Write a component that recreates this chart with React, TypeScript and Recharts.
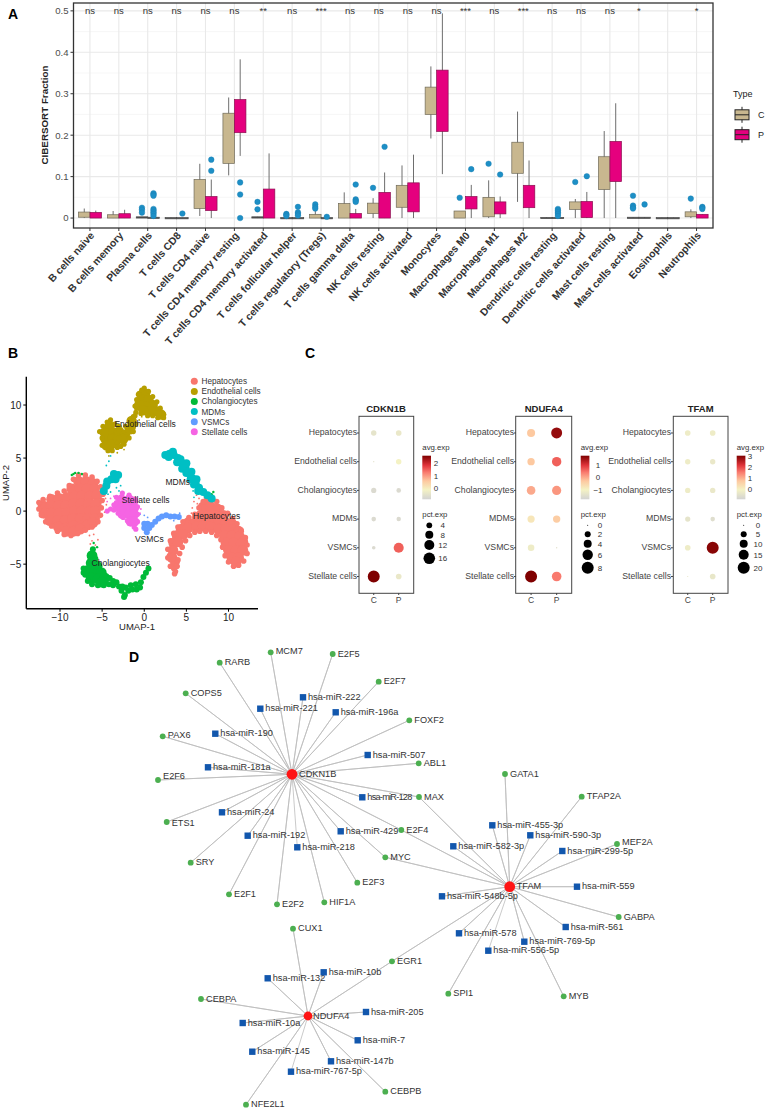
import {
    Bar,
    CartesianGrid,
    Cell,
    ComposedChart,
    Scatter,
    ScatterChart,
    XAxis,
    YAxis,
    ZAxis,
} from "recharts";

// ---- panel A: CIBERSORT fractions
const cellTypes = [
    "B cells naive", "B cells memory", "Plasma cells", "T cells CD8", "T cells CD4 naive",
    "T cells CD4 memory resting", "T cells CD4 memory activated", "T cells follicular helper",
    "T cells regulatory (Tregs)", "T cells gamma delta", "NK cells resting", "NK cells activated",
    "Monocytes", "Macrophages M0", "Macrophages M1", "Macrophages M2", "Dendritic cells resting",
    "Dendritic cells activated", "Mast cells resting", "Mast cells activated", "Eosinophils", "Neutrophils",
];
const significance = ["ns", "ns", "ns", "ns", "ns", "ns", "**", "ns", "***", "ns", "ns", "ns", "ns", "***", "ns", "***", "ns", "ns", "ns", "*", "", "*"];

const cLow = [0, 0, 0, 0, 0.005, 0.103, 0, 0, 0, 0, 0, 0, 0.192, 0, 0, 0.039, 0, 0, 0, 0, 0, 0];
const cQ1 = [0.002, 0, 0, 0, 0.023, 0.132, 0, 0, 0, 0, 0.011, 0.026, 0.25, 0, 0.003, 0.108, 0, 0.021, 0.069, 0, 0, 0.003];
const cQ3 = [0.0145, 0.008, 0.003, 0.001, 0.093, 0.253, 0.003, 0.001, 0.009, 0.035, 0.036, 0.079, 0.316, 0.017, 0.05, 0.183, 0.0015, 0.039, 0.148, 0.002, 0.001, 0.015];
const cHigh = [0.023, 0.017, 0.003, 0.001, 0.131, 0.291, 0.003, 0.001, 0.019, 0.062, 0.048, 0.127, 0.366, 0.017, 0.091, 0.257, 0.0015, 0.046, 0.21, 0.002, 0.001, 0.021];

const pLow = [0, 0, 0, 0, 0, 0.15, 0, 0, 0, 0, 0, 0, 0.106, 0, 0, 0, 0, 0, 0, 0, 0, 0];
const pQ1 = [0, 0, 0, 0, 0.018, 0.206, 0, 0, 0, 0, 0, 0.015, 0.209, 0.022, 0.01, 0.025, 0, 0.001, 0.088, 0, 0, 0];
const pQ3 = [0.0137, 0.0105, 0.002, 0.001, 0.052, 0.286, 0.07, 0.001, 0.001, 0.011, 0.062, 0.085, 0.357, 0.052, 0.039, 0.079, 0.0015, 0.04, 0.185, 0.002, 0.001, 0.009];
const pHigh = [0.018, 0.02, 0.002, 0.001, 0.093, 0.383, 0.156, 0.001, 0.001, 0.022, 0.11, 0.153, 0.494, 0.08, 0.052, 0.139, 0.0015, 0.063, 0.277, 0.002, 0.001, 0.009];

const cOutliers = [
    [], [], [0.025, 0.02, 0.013], [], [], [], [0.039, 0.021], [0.01, 0.008, 0.005], [0.033, 0.027, 0.023], [],
    [0.073], [], [], [0.049], [0.131], [], [], [0.087], [], [0.054, 0.03, 0.026, 0.023], [], [0.047],
];
const pOutliers = [
    [], [], [0.06, 0.057, 0.054, 0.022, 0.018, 0.014, 0.01, 0.005], [0.011], [0.141, 0.114], [0.086, 0.057, 0],
    [], [0.027, 0.014, 0.01, 0.006], [0.003], [0.081, 0.045, 0.042, 0.039], [0.172], [], [], [0.118], [0.105], [],
    [0.022, 0.018, 0.014, 0.01, 0.005], [0.101], [], [0.033], [], [0.027, 0.025, 0.022],
];

const yTicksA = [0, 0.1, 0.2, 0.3, 0.4, 0.5];
const yMinorA = [0.05, 0.15, 0.25, 0.35, 0.45];

const boxRows = cellTypes.map((name, i) => ({
    name,
    c: [cLow[i], cHigh[i]],
    p: [pLow[i], pHigh[i]],
    cBox: [cQ1[i], cQ3[i]],
    pBox: [pQ1[i], pQ3[i]],
}));
const outlierRows = [
    ...cOutliers.flatMap((vals, i) => vals.map((y) => ({ x: i + 1 - 0.2, y }))),
    ...pOutliers.flatMap((vals, i) => vals.map((y) => ({ x: i + 1 + 0.2, y }))),
];
const sigRows = significance.map((label, i) => ({ x: i + 1, y: 0.5, label }));

const hepCore = [
    [-7.8, 2.8], [-6.9, 2.8], [-6.1, 2.6],
    [-8.6, 2.1], [-7.7, 2.1], [-6.8, 2.1], [-5.9, 2.1],
    [-11.0, 1.1], [-10.1, 1.2], [-9.2, 1.3], [-8.3, 1.4], [-7.4, 1.4], [-6.5, 1.4], [-5.6, 1.5],
    [-12.0, 0.5], [-11.1, 0.5], [-10.2, 0.5], [-9.3, 0.5], [-8.4, 0.7], [-7.5, 0.7], [-6.6, 0.7], [-5.7, 0.7],
    [-11.9, -0.2], [-11.0, -0.2], [-10.1, -0.2], [-9.2, -0.2], [-8.3, 0], [-7.4, 0], [-6.5, 0], [-5.8, 0],
    [-11.2, -0.9], [-10.3, -0.9], [-9.4, -0.9], [-8.5, -0.7], [-7.6, -0.7], [-6.7, -0.7], [-5.9, -0.7],
    [-10.2, -1.5], [-9.3, -1.6], [-8.4, -1.4], [-7.5, -1.4], [-6.7, -1.3], [-6.1, -1.1],
    [-9.2, -1.9], [-8.4, -1.9], [-7.6, -1.7],
    [7.6, 0.9], [7.0, 0.4], [7.9, 0.4], [8.7, 0.2],
    [6.7, -0.4], [7.6, -0.4], [8.5, -0.4], [9.4, -0.4],
    [5.2, -1.1], [6.1, -1.1], [7.0, -1.1], [7.9, -1.1], [8.8, -1.1], [9.7, -1.1], [10.4, -1.2],
    [4.4, -1.7], [5.2, -1.6], [6.2, -1.5], [7.0, -1.4], [7.9, -1.5], [8.8, -1.7], [9.7, -1.7], [10.6, -1.7], [11.2, -1.9],
    [3.9, -2.3], [4.6, -2.2], [9.5, -2.3], [10.4, -2.3], [11.3, -2.4], [11.7, -2.9],
    [3.5, -3.0], [4.0, -2.9], [9.7, -3.0], [10.6, -3.0], [11.5, -3.1],
    [3.4, -3.7], [10.0, -3.7], [10.9, -3.7], [11.7, -3.7],
    [3.3, -4.4], [10.4, -4.4], [11.2, -4.4], [10.9, -4.8],
];
const hepThin = [
    [3.4, -5.0], [3.5, -5.4], [3.7, -5.7], [3.6, -5.9], [3.9, -4.8], [6.0, -0.6], [3.0, -4.2],
    // left blob edge
    [-12.5, 0.8], [-12.5, 0.2], [-12.2, -0.4], [-11.7, -1], [-11, -1.4], [-10.3, -1.9], [-9.5, -2.2], [-8.7, -2.3], [-7.9, -2.1],
    [-7, -1.8], [-6.2, -1.5], [-5.5, -1], [-5.2, -0.4], [-5.1, 0.3], [-5, 1], [-4.9, 1.6], [-5.2, 2.3], [-5.6, 2.8], [-6.2, 3.2],
    [-7, 3.4], [-7.8, 3.4], [-8.4, 3.0], [-8.9, 2.4], [-9.5, 1.9], [-10.3, 1.7], [-11.2, 1.4], [-12, 1.1],
    // crescent edge
    [3.1, -5.2], [2.8, -4.4], [2.8, -3.6], [3.1, -2.8], [3.5, -2.1], [4, -1.5], [4.6, -1], [5.3, -0.6], [6, -0.3], [6.5, 0.3],
    [7, 0.9], [7.4, 1.3], [8, 1.3], [8.6, 0.9], [9.2, 0.3], [9.9, -0.2], [10.5, -0.7], [11, -1.2], [11.5, -1.8], [12, -2.5],
    [12.2, -3.2], [12.2, -4], [11.8, -4.7], [11.2, -5.1], [10.6, -5.2], [10, -4.8], [9.6, -4.2], [9.3, -3.4], [9.1, -2.7], [8.6, -2.3],
    [8, -2], [7.3, -1.9], [6.6, -1.9], [6, -2], [5.4, -2.3], [4.9, -2.8], [4.5, -3.4], [4.2, -4], [4, -4.6], [3.9, -5.2],
];
const hepSpecks = [
    [-6.5, -2.3], [-6.2, -2.8], [-5.8, -3.2], [-5.5, -2.7], [-6, -2.2], [-6.4, -3.1], [6.2, 1.5], [6.5, 1.2], [5.7, 0.3],
    [5.6, -0.2], [5.2, -0.7], [4.7, -0.9], [5.9, 0.9], [6.3, 0.7], [-4.6, 1.2], [-4.5, 0.6], [-4.7, -0.1],
];
const endoCore = [
    [0.1, 11.1], [-0.3, 10.5], [0.5, 10.5], [1.0, 10.0], [0.1, 9.9], [-0.6, 10.0], [1.5, 9.4], [2.0, 9.1], [0.8, 9.4], [-0.1, 9.5],
    [-4.1, 8.0], [-4.7, 7.4], [-3.7, 7.4], [-4.6, 6.8], [-3.8, 6.8], [-4.5, 6.2], [-3.9, 6.3], [-3, 7.5], [-3.1, 6.8],
    [-2.3, 7.2], [-1.7, 7.7], [-1.5, 8.5], [-2.5, 6.8],
];
const endoThin = [
    [-0.7, 11.0], [-0.9, 9.7], [-1.1, 9.0], [-3.0, 7.6], [-3.2, 6.4], [-3.0, 6.9], [-4.3, 5.7], [-2.8, 6.1], [-1.3, 7.9], [-2.2, 8.0],
    [0, 11.6], [0.5, 11.3], [1, 10.8], [1.5, 10.3], [1.9, 9.7], [2.3, 9.1], [2.3, 8.8], [1.6, 8.8], [1, 9], [0.4, 9], [-0.4, 9.2], [-1, 9.3],
    [-1.1, 9.9], [-0.9, 10.5], [-0.6, 11.1], [-0.3, 11.4],
    [-4, 8.6], [-3.5, 8.2], [-3, 8], [-1.3, 8.9], [-1, 8.2], [-1.3, 7.5], [-1.8, 6.9], [-2.4, 6.3], [-3.2, 6], [-3.8, 5.7], [-5, 6.2],
    [-5, 6.9], [-5.3, 7.5], [-4.9, 8], [-4.4, 8.4],
];
const endoSpecks = [[-3.2, 5.5], [-4.2, 5.2], [-2.4, 5.8], [-0.6, 8.6], [-0.3, 8.9]];
const cholCore = [
    [-6.2, -4.2], [-6.3, -4.9], [-5.6, -5.2], [-6.7, -5.6], [-5.9, -5.7], [-5.1, -5.8],
    [-6.3, -6.3], [-5.5, -6.4], [-4.7, -6.3], [-5.0, -6.7],
];
const cholThin = [
    [-6.1, -3.6], [-4.1, -6.3], [-3.7, -6.6], [-4.2, -6.9], [-3.3, -6.7], [-3.0, -7.1], [-2.7, -7.5], [-2.3, -7.9], [-2.4, -8.1],
    [-1.9, -7.5], [-1.4, -7.4], [-0.9, -7.4], [-0.5, -7.2], [-0.4, -6.7], [-0.1, -6.2], [0.2, -5.8], [0.5, -5.4],
    [-1.0, -6.9], [-2.2, -7.2], [-7.2, -5.8], [-5.8, -4.5], [-7.2, -5.4], [-7, -6], [-6.7, -6.6], [-6.2, -6.9], [-5.5, -7], [-4.8, -7],
    [-1.6, -7], [-3.7, -7], [-2.6, -7.1],
];
const cholSpecks = [[-6, -3], [-5.6, -3.4], [-8.6, 3.4], [-8.4, 3.5], [-8.2, 3.6], [-7.8, 3.6], [-7.4, 3.5], [8, 1.6], [8.2, 1.8], [8.1, 1.3]];
const mdmThin = [
    [2.5, 5.3], [3.0, 5.4], [3.5, 5.3], [4.0, 5.0], [4.5, 4.5], [4.9, 4.1], [5.3, 3.6], [5.7, 3.1], [6.1, 2.6], [6.5, 2.2],
    [7.0, 1.8], [7.5, 1.5], [8.0, 1.2], [-3.6, 3.5], [-3.1, 3.4], [-3.9, 3.0], [-3.4, 3.0], [-4.4, 2.8], [-4.5, 2.4], [-4.8, 1.9],
    [2.9, 5.1], [3.9, 4.6], [4.5, 4.0], [5, 3.6], [5.5, 3.0], [5.9, 2.5], [6.4, 1.9], [3.4, 5.6], [4.3, 4.9], [5.0, 4.5], [5.6, 3.7], [6.2, 3.0],
];
const mdmSpecks = [[-4.3, 1.6], [-4, 1.8], [-3.3, 2.2], [-3, 1.9], [-2.8, 2.4], [-4.5, 4.3], [-4.2, 4.7], [-4, 5.2], [5.8, 1.9], [5.9, 1.3]];
const vsmcThin = [[0, -1.6], [0.3, -2], [0.6, -1.6], [0.4, -1.2], [0.9, -1.3], [1.3, -1], [1.7, -0.7], [2.1, -0.5], [2.6, -0.4], [3.1, -0.5], [3.6, -0.5], [4.1, -0.55], [0, -1.2]];
const vsmcSpecks = [[-0.5, -0.3], [0, -0.4], [0.4, -0.6], [3.5, -0.9], [4.2, -0.2]];
const stelCore = [[-2.7, 1.1], [-1.8, 1.1], [-1.3, 0.9], [-3.2, 0.4], [-2.4, 0.4], [-1.6, 0.4], [-1.2, 0.3], [-2.6, -0.3], [-1.8, -0.3], [-1.2, -0.3], [-1.6, -1], [-1.2, -1]];
const stelThin = [
    [-1.2, -1.5], [-4.4, 0], [-4, 0.2], [-3.6, 0.1], [-3.3, 0.8], [-3.3, 1.3], [-2.6, 1.7], [-1.8, 1.5], [-1.1, 1.1], [-0.8, 0.4],
    [-0.8, -0.3], [-0.8, -1], [-1, -1.7], [-2, -0.9], [-2.5, -0.6], [-3.1, -0.2], [-3.6, 0.6],
];
const stelSpecks = [[-4.4, 0.9], [-4, 1.2], [-3.6, 1.4], [-0.5, -0.2], [-0.4, 0.2]];

const clusterNames = ["Hepatocytes", "Endothelial cells", "Cholangiocytes", "MDMs", "VSMCs", "Stellate cells"];
const clusterColors = ["#f8766d", "#b79f00", "#00ba38", "#00bfc4", "#619cff", "#f564e3"];
const clusterLabels = [
    { x: 8.6, y: -0.45, label: "Hepatocytes" },
    { x: 0.1, y: 8.2, label: "Endothelial cells" },
    { x: -2.8, y: -4.85, label: "Cholangiocytes" },
    { x: 3.97, y: 2.76, label: "MDMs" },
    { x: 0.6, y: -2.6, label: "VSMCs" },
    { x: 0.17, y: 1.07, label: "Stellate cells" },
];

// ---- panel C: dot plots
const dotRowNames = ["Hepatocytes", "Endothelial cells", "Cholangiocytes", "MDMs", "VSMCs", "Stellate cells"];
const cdkn1bPct = [3.6, 3.9, 0.2, 3.6, 3.3, 2.6, 2.6, 2.4, 1.6, 12.3, 17.5, 3.9];
const cdkn1bAvg = [0.12, 0.15, 0.1, 0.22, 0.05, 0.05, 0.05, 0.05, 0.05, 0.68, 1, 0.15];
const ndufa4Pct = [3.6, 6.7, 3, 4.9, 4.1, 4.7, 2.9, 3, 2.4, 0.1, 8, 5.1];
const ndufa4Avg = [0.42, 0.95, 0.42, 0.68, 0.5, 0.55, 0.28, 0.4, 0.18, 0.1, 1, 0.62];
const tfamPct = [4.4, 4.4, 4, 4, 4, 4, 3.8, 2.9, 4.4, 20, 0.2, 4.4];
const tfamAvg = [0.18, 0.18, 0.18, 0.15, 0.18, 0.15, 0.12, 0.08, 0.18, 0.98, 0.14, 0.14];

const rampStops: [number, string][] = [
    [0, "#d3d3d3"], [0.22, "#f4f2c4"], [0.42, "#fdc9a0"], [0.62, "#f97a6e"], [0.78, "#e0343a"], [1, "#7f0000"],
];

const rampColor = (t: number) => {
    const hex = (c: string) => [1, 3, 5].map((i) => parseInt(c.slice(i, i + 2), 16));
    for (let i = 1; i < rampStops.length; i++) {
        if (t <= rampStops[i][0]) {
            const [t0, c0] = rampStops[i - 1];
            const [t1, c1] = rampStops[i];
            const k = (t - t0) / (t1 - t0);
            const a = hex(c0);
            const b = hex(c1);
            return `rgb(${a.map((v, j) => Math.round(v + (b[j] - v) * k)).join(",")})`;
        }
    }
    return rampStops[rampStops.length - 1][1];
};

const dotRows = (pct: number[], avg: number[]) =>
    pct.map((p, i) => ({ x: (i % 2) + 1, y: Math.floor(i / 2) + 1, pct: p, avg: avg[i] }));

// ---- panel D: regulatory network
const hubs = [
    { name: "CDKN1B", x: 292, y: 774.3 },
    { name: "TFAM", x: 509.7, y: 886.7 },
    { name: "NDUFA4", x: 308, y: 1016 },
];
const factors = [
    { name: "MCM7", x: 270.7, y: 652.3 }, { name: "E2F5", x: 332.7, y: 654 }, { name: "RARB", x: 219.7, y: 662.7 },
    { name: "E2F7", x: 378.7, y: 681.7 }, { name: "COPS5", x: 185.7, y: 693.3 }, { name: "FOXF2", x: 409.3, y: 720.3 },
    { name: "PAX6", x: 162.7, y: 736.3 }, { name: "ABL1", x: 418.7, y: 763.3 }, { name: "E2F6", x: 158, y: 780 },
    { name: "MAX", x: 419, y: 797 }, { name: "ETS1", x: 166.7, y: 822 }, { name: "E2F4", x: 401.3, y: 830 },
    { name: "MYC", x: 385.3, y: 857.3 }, { name: "SRY", x: 190.7, y: 862.7 }, { name: "E2F3", x: 357.3, y: 882.7 },
    { name: "E2F1", x: 229, y: 894.3 }, { name: "E2F2", x: 277, y: 904.3 }, { name: "HIF1A", x: 324.3, y: 902.3 },
    { name: "GATA1", x: 505, y: 774 }, { name: "TFAP2A", x: 581.7, y: 796.7 }, { name: "MEF2A", x: 617, y: 844 },
    { name: "GABPA", x: 618.7, y: 917 }, { name: "MYB", x: 563.7, y: 996.3 }, { name: "SPI1", x: 448.3, y: 993.7 },
    { name: "EGR1", x: 392, y: 961.3 }, { name: "CUX1", x: 293, y: 928.7 }, { name: "CEBPA", x: 201, y: 999 },
    { name: "CEBPB", x: 385.3, y: 1091.7 }, { name: "NFE2L1", x: 246, y: 1104.7 },
];
const mirnas = [
    { name: "hsa-miR-222", x: 303, y: 697.3 }, { name: "hsa-miR-221", x: 260.3, y: 708.7 }, { name: "hsa-miR-196a", x: 335.7, y: 712.3 },
    { name: "hsa-miR-190", x: 215.3, y: 733.7 }, { name: "hsa-miR-507", x: 367.7, y: 755 }, { name: "hsa-miR-181a", x: 208, y: 767.3 },
    { name: "hsa-miR-128", x: 362.3, y: 797.3 }, { name: "hsa-miR-24", x: 222, y: 812.3 }, { name: "hsa-miR-192", x: 247.7, y: 835.7 },
    { name: "hsa-miR-429", x: 340.7, y: 831.3 }, { name: "hsa-miR-218", x: 297.3, y: 847.3 },
    { name: "hsa-miR-455-3p", x: 492.3, y: 825.3 }, { name: "hsa-miR-590-3p", x: 530.3, y: 835.3 }, { name: "hsa-miR-582-3p", x: 453.3, y: 846.3 },
    { name: "hsa-miR-299-5p", x: 562.3, y: 851 }, { name: "hsa-miR-559", x: 577, y: 886.7 }, { name: "hsa-miR-548b-5p", x: 442, y: 896.3 },
    { name: "hsa-miR-561", x: 565.7, y: 927 }, { name: "hsa-miR-578", x: 459, y: 933.3 }, { name: "hsa-miR-769-5p", x: 524.3, y: 941.7 },
    { name: "hsa-miR-556-5p", x: 488.3, y: 950.7 },
    { name: "hsa-miR-132", x: 267.7, y: 978.3 }, { name: "hsa-miR-10b", x: 323.7, y: 972.3 }, { name: "hsa-miR-205", x: 366, y: 1012 },
    { name: "hsa-miR-10a", x: 242.7, y: 1023 }, { name: "hsa-miR-7", x: 357.7, y: 1040.3 }, { name: "hsa-miR-145", x: 252.3, y: 1051.7 },
    { name: "hsa-miR-147b", x: 331, y: 1061.3 }, { name: "hsa-miR-767-5p", x: 291, y: 1071.7 },
];
const cdkn1bLinks = [
    "MCM7", "E2F5", "RARB", "E2F7", "COPS5", "FOXF2", "PAX6", "ABL1", "E2F6", "MAX", "ETS1", "E2F4", "MYC", "SRY", "E2F3", "E2F1", "E2F2", "HIF1A",
    "hsa-miR-222", "hsa-miR-221", "hsa-miR-196a", "hsa-miR-190", "hsa-miR-507", "hsa-miR-181a", "hsa-miR-128", "hsa-miR-24", "hsa-miR-192", "hsa-miR-429", "hsa-miR-218",
];
const tfamLinks = [
    "GATA1", "TFAP2A", "MEF2A", "GABPA", "MYB", "SPI1", "EGR1", "MAX", "E2F4", "MYC",
    "hsa-miR-455-3p", "hsa-miR-590-3p", "hsa-miR-582-3p", "hsa-miR-299-5p", "hsa-miR-559", "hsa-miR-548b-5p", "hsa-miR-561", "hsa-miR-578", "hsa-miR-769-5p", "hsa-miR-556-5p",
];
const ndufa4Links = [
    "CUX1", "CEBPA", "CEBPB", "NFE2L1", "EGR1",
    "hsa-miR-132", "hsa-miR-10b", "hsa-miR-205", "hsa-miR-10a", "hsa-miR-7", "hsa-miR-145", "hsa-miR-147b", "hsa-miR-767-5p",
];
// labels that sit off the usual spot in the picture
const labelShiftY: Record<string, number> = { MEF2A: -2, E2F6: -4, ETS1: 1.5, PAX6: -1, MCM7: -1 };

const FONT = "'Liberation Sans', Arial, sans-serif";
const CONTROL = "#c8b78f";
const PATIENT = "#e5007e";

const pts = (pairs: number[][]) => pairs.map(([x, y]) => ({ x, y }));

const dot = (r: number, fill: string) => (p: any) => <circle cx={p.cx} cy={p.cy} r={r} fill={fill} />;

// whisker range comes in as the bar, the box is placed inside it with the same scale
const boxShape = (boxKey: "cBox" | "pBox", rangeKey: "c" | "p", fill: string, stroke: string) => (p: any) => {
    const [lo, hi] = p.payload[rangeKey];
    const [q1, q3] = p.payload[boxKey];
    const perUnit = p.height / (hi - lo);
    const top = p.y + (hi - q3) * perUnit;
    const h = Math.max((q3 - q1) * perUnit, 1.2);
    const mid = p.x + p.width / 2;
    return (
        <g>
            <line x1={mid} x2={mid} y1={p.y} y2={p.y + p.height} stroke="#6e6e6e" strokeWidth={1} />
            <rect x={p.x} y={top} width={p.width} height={h} fill={h < 2 ? "#4a4a4a" : fill} stroke={h < 2 ? "#4a4a4a" : stroke} strokeWidth={0.7} />
        </g>
    );
};

const CellTick = (p: any) => (
    <text
        transform={`translate(${p.x + 5},${p.y + 3}) rotate(-48)`}
        textAnchor="end"
        fontSize={10.4}
        fontWeight="bold"
        fill="#333"
        fontFamily={FONT}
    >
        {p.payload.value}
    </text>
);

const BoxPanel = () => (
    <div style={{ position: "absolute", left: 0, top: 0 }}>
        <ComposedChart
            width={767}
            height={356}
            data={boxRows}
            barGap={0}
            margin={{ top: 3, right: 54, bottom: 0, left: 0 }}
        >
            <CartesianGrid xAxisId="num" horizontalValues={yMinorA} vertical={false} stroke="#f2f2f2" strokeWidth={0.6} />
            <CartesianGrid
                xAxisId="num"
                horizontalValues={yTicksA}
                verticalValues={cellTypes.map((_, i) => i + 1)}
                stroke="#e9e9e9"
                strokeWidth={1.1}
            />
            <XAxis
                xAxisId="cat"
                dataKey="name"
                interval={0}
                height={128}
                padding={{ left: 2, right: 2 }}
                tick={CellTick}
                tickSize={3}
                axisLine={false}
                tickLine={{ stroke: "#333" }}
            />
            <XAxis xAxisId="num" type="number" dataKey="x" domain={[0.5, 22.5]} padding={{ left: 2, right: 2 }} hide />
            <YAxis
                width={73.5}
                type="number"
                domain={[-0.024, 0.519]}
                ticks={yTicksA}
                allowDataOverflow
                tickSize={3}
                axisLine={false}
                tickLine={{ stroke: "#333" }}
                tick={{ fontSize: 9.6, fill: "#4d4d4d", fontFamily: FONT }}
            />
            <Bar
                xAxisId="cat"
                dataKey="c"
                barSize={11.5}
                isAnimationActive={false}
                shape={boxShape("cBox", "c", CONTROL, "#6f6a58")}
            />
            <Bar
                xAxisId="cat"
                dataKey="p"
                barSize={11.5}
                isAnimationActive={false}
                shape={boxShape("pBox", "p", PATIENT, "#8a1050")}
            />
            <Scatter
                xAxisId="num"
                dataKey="y"
                data={outlierRows}
                isAnimationActive={false}
                shape={(p: any) => <circle cx={p.cx} cy={p.cy} r={2.8} fill="#1d8fc6" stroke="#1a7fb0" strokeWidth={0.4} />}
            />
            <Scatter
                xAxisId="num"
                dataKey="y"
                data={sigRows}
                isAnimationActive={false}
                shape={(p: any) => (
                    <text x={p.cx} y={p.cy + 3} textAnchor="middle" fontSize={9.5} fill="#333" fontFamily={FONT}>
                        {p.payload.label}
                    </text>
                )}
            />
        </ComposedChart>
    </div>
);

const umapSeries: [number[][], number, string][] = [
    [hepSpecks, 0.9, clusterColors[0]],
    [hepCore, 5.4, clusterColors[0]],
    [hepThin, 2.8, clusterColors[0]],
    [endoSpecks, 0.9, clusterColors[1]],
    [endoCore, 5.2, clusterColors[1]],
    [endoThin, 2.6, clusterColors[1]],
    [cholSpecks, 1.2, clusterColors[2]],
    [cholCore, 5.4, clusterColors[2]],
    [cholThin, 3, clusterColors[2]],
    [mdmSpecks, 0.9, clusterColors[3]],
    [mdmThin, 4, clusterColors[3]],
    [vsmcSpecks, 0.9, clusterColors[4]],
    [vsmcThin, 3, clusterColors[4]],
    [stelSpecks, 0.9, clusterColors[5]],
    [stelCore, 5, clusterColors[5]],
    [stelThin, 2.6, clusterColors[5]],
];

const minusTick = (v: number) => String(v).replace("-", "\u2212");

const UmapPanel = () => (
    <div style={{ position: "absolute", left: 0, top: 370 }}>
        <ScatterChart width={265} height={262} margin={{ top: 6.7, right: 7, bottom: 0, left: 0 }}>
            <XAxis
                type="number"
                dataKey="x"
                domain={[-14, 13.5]}
                ticks={[-10, -5, 0, 5, 10]}
                tickFormatter={minusTick}
                height={23.3}
                tickSize={3}
                axisLine={{ stroke: "#000", strokeWidth: 1.4 }}
                tickLine={{ stroke: "#000" }}
                tick={{ fontSize: 10, fill: "#222", fontFamily: FONT }}
            />
            <YAxis
                type="number"
                dataKey="y"
                domain={[-9.2, 12.67]}
                ticks={[-5, 0, 5, 10]}
                tickFormatter={minusTick}
                width={26.3}
                tickSize={3}
                axisLine={{ stroke: "#000", strokeWidth: 1.4 }}
                tickLine={{ stroke: "#000" }}
                tick={{ fontSize: 10, fill: "#222", fontFamily: FONT }}
            />
            {umapSeries.map(([cells, r, color], i) => (
                <Scatter key={i} data={pts(cells)} isAnimationActive={false} shape={dot(r, color)} />
            ))}
            <Scatter
                data={clusterLabels}
                isAnimationActive={false}
                shape={(p: any) => (
                    <text x={p.cx} y={p.cy + 3} textAnchor="middle" fontSize={8.5} fill="#222" fontFamily={FONT}>
                        {p.payload.label}
                    </text>
                )}
            />
        </ScatterChart>
    </div>
);

const RowTick = (p: any) => (
    <text x={p.x} y={p.y + 2.4} textAnchor="end" fontSize={8.7} fill="#444" fontFamily={FONT}>
        {dotRowNames[p.payload.value - 1]}
    </text>
);

const DotPanel = ({ left, plotWidth, maxPct, rows }: { left: number; plotWidth: number; maxPct: number; rows: any[] }) => (
    <div style={{ position: "absolute", left: left - 70, top: 416.3 }}>
        <ScatterChart width={70 + plotWidth} height={195} margin={{ top: 0, right: 0, bottom: 0, left: 0 }}>
            <XAxis
                type="number"
                dataKey="x"
                domain={[0.41, 2.6]}
                ticks={[1, 2]}
                tickFormatter={(v: number) => (v === 1 ? "C" : "P")}
                height={18}
                tickSize={2}
                axisLine={false}
                tickLine={{ stroke: "#444" }}
                tick={{ fontSize: 8.5, fill: "#444", fontFamily: FONT }}
            />
            <YAxis
                type="number"
                dataKey="y"
                reversed
                domain={[0.408, 6.575]}
                ticks={[1, 2, 3, 4, 5, 6]}
                width={70}
                tickSize={2}
                tickMargin={0}
                axisLine={false}
                tickLine={{ stroke: "#444" }}
                tick={RowTick}
            />
            <ZAxis type="number" dataKey="pct" domain={[0, maxPct]} range={[0, 113]} />
            <Scatter data={rows} isAnimationActive={false}>
                {rows.map((r, i) => (
                    <Cell key={i} fill={rampColor(r.avg)} />
                ))}
            </Scatter>
        </ScatterChart>
    </div>
);

const nodeByName = Object.fromEntries([...factors, ...mirnas].map((n) => [n.name, n]));
const starPath = (hub: { x: number; y: number }, links: string[]) =>
    links.flatMap((name) => [hub, nodeByName[name]]);

const nodeLabel = (p: any, dx: number) => (
    <text
        x={p.cx + dx}
        y={p.cy + 2.5 + (labelShiftY[p.payload.name] ?? 0)}
        fontSize={9.2}
        fill="#333"
        fontFamily={FONT}
        textLength={p.payload.name === "hsa-miR-128" ? 45 : undefined}
        lengthAdjust="spacing"
    >
        {p.payload.name}
    </text>
);

const NetworkPanel = () => (
    <div style={{ position: "absolute", left: 0, top: 640 }}>
        <ScatterChart width={767} height={470} margin={{ top: 0, right: 0, bottom: 0, left: 0 }}>
            <XAxis type="number" dataKey="x" domain={[0, 767]} hide />
            <YAxis type="number" dataKey="y" domain={[640, 1110]} reversed hide />
            {[cdkn1bLinks, tfamLinks, ndufa4Links].map((links, i) => (
                <Scatter
                    key={i}
                    data={starPath(hubs[i], links)}
                    line={{ stroke: "#bdbdbd", strokeWidth: 0.8 }}
                    isAnimationActive={false}
                    shape={() => <g />}
                />
            ))}
            <Scatter
                data={factors}
                isAnimationActive={false}
                shape={(p: any) => (
                    <g>
                        <circle cx={p.cx} cy={p.cy} r={2.9} fill="#4caf50" />
                        {nodeLabel(p, 5)}
                    </g>
                )}
            />
            <Scatter
                data={mirnas}
                isAnimationActive={false}
                shape={(p: any) => (
                    <g>
                        <rect x={p.cx - 3.2} y={p.cy - 3.2} width={6.4} height={6.4} fill="#1257ad" />
                        {nodeLabel(p, 5)}
                    </g>
                )}
            />
            <Scatter
                data={hubs}
                isAnimationActive={false}
                shape={(p: any) => (
                    <g>
                        <circle cx={p.cx} cy={p.cy} r={p.payload.name === "NDUFA4" ? 4.4 : 5.4} fill="#ff1414" />
                        {nodeLabel(p, p.payload.name === "NDUFA4" ? 5 : 7)}
                    </g>
                )}
            />
        </ScatterChart>
    </div>
);

const pctLegends = [
    { x: 429.3, labelX: 442.7, values: ["4", "8", "12", "16"], ys: [525.3, 534.7, 545, 558.3], rs: [2.9, 4, 5, 5.8] },
    { x: 587.7, labelX: 600, values: ["0", "2", "4", "6", "8"], ys: [525.3, 534.3, 543.7, 554.7, 567.7], rs: [0.5, 3, 4, 5.2, 6] },
    { x: 743.7, labelX: 758, values: ["0", "5", "10", "15", "20"], ys: [525.3, 534.3, 543.7, 554.7, 567.7], rs: [0.5, 3, 4, 5, 6] },
];
const avgLegends = [
    { x: 422.3, labelX: 436, values: ["2", "1", "0"], ys: [462.7, 475.7, 488] },
    { x: 580.7, labelX: 598, values: ["1", "0", "\u22121"], ys: [464.7, 477, 489.7] },
    { x: 736.7, labelX: 750, values: ["3", "2", "1", "0"], ys: [456, 467, 478, 488.7] },
];
const dotTitles = [
    { name: "CDKN1B", x: 386, left: 359, width: 54.7 },
    { name: "NDUFA4", x: 543.7, left: 515.7, width: 56 },
    { name: "TFAM", x: 700.7, left: 673.3, width: 54.7 },
];
const panelLetters = [
    { t: "A", x: 8, y: 19 },
    { t: "B", x: 8, y: 358 },
    { t: "C", x: 305, y: 358 },
    { t: "D", x: 129, y: 662 },
];

const Overlay = () => (
    <svg width={767} height={1110} style={{ position: "absolute", left: 0, top: 0, pointerEvents: "none" }} fontFamily={FONT}>
        <defs>
            <linearGradient id="ramp" x1="0" x2="0" y1="1" y2="0">
                {rampStops.map(([o, c]) => (
                    <stop key={o} offset={o} stopColor={c} />
                ))}
            </linearGradient>
        </defs>
        {panelLetters.map((l) => (
            <text key={l.t} x={l.x} y={l.y} fontSize={14} fontWeight="bold" fill="#000">
                {l.t}
            </text>
        ))}

        <rect x={73.5} y={3} width={639.5} height={225} fill="none" stroke="#333" strokeWidth={1.3} />
        <text transform="translate(47.5,115) rotate(-90)" textAnchor="middle" fontSize={9.8} fontWeight="bold" fill="#222">
            CIBERSORT Fraction
        </text>
        <text x={733} y={97} fontSize={9} fill="#222">Type</text>
        {[
            { label: "C", y: 114.8, fill: CONTROL },
            { label: "P", y: 134.7, fill: PATIENT },
        ].map((k) => (
            <g key={k.label}>
                <line x1={742} x2={742} y1={k.y - 8} y2={k.y + 8} stroke="#222" />
                <rect x={735} y={k.y - 5} width={14} height={10} fill={k.fill} stroke="#222" strokeWidth={1} />
                <line x1={735} x2={749} y1={k.y} y2={k.y} stroke="#222" />
                <text x={758} y={k.y + 3} fontSize={9} fill="#222">{k.label}</text>
            </g>
        ))}

        <text x={137} y={630} textAnchor="middle" fontSize={9.5} fill="#222">UMAP-1</text>
        <text transform="translate(8.5,483) rotate(-90)" textAnchor="middle" fontSize={9.5} fill="#222">UMAP-2</text>
        {clusterNames.map((name, i) => (
            <g key={name}>
                <circle cx={194.3} cy={381.3 + i * 10.1} r={3.5} fill={clusterColors[i]} />
                <text x={201.5} y={384.2 + i * 10.1} fontSize={8.2} fill="#333">{name}</text>
            </g>
        ))}

        {dotTitles.map((d) => (
            <g key={d.name}>
                <text x={d.x} y={411.5} textAnchor="middle" fontSize={9.5} fontWeight="bold" fill="#222">{d.name}</text>
                <rect x={d.left} y={416.3} width={d.width} height={177} fill="none" stroke="#444" strokeWidth={1} />
            </g>
        ))}
        {avgLegends.map((l) => (
            <g key={l.x}>
                <text x={l.x} y={450} fontSize={7.8} fill="#333">avg.exp</text>
                <rect x={l.x} y={455.7} width={8.7} height={43.6} fill="url(#ramp)" />
                {l.values.map((v, i) => (
                    <text key={v} x={l.labelX} y={l.ys[i] + 2.8} textAnchor="middle" fontSize={8} fill="#333">{v}</text>
                ))}
            </g>
        ))}
        {pctLegends.map((l, n) => (
            <g key={l.x}>
                <text x={avgLegends[n].x} y={517} fontSize={7.8} fill="#333">pct.exp</text>
                {l.values.map((v, i) => (
                    <g key={v}>
                        <circle cx={l.x} cy={l.ys[i]} r={l.rs[i]} fill="#000" />
                        <text x={l.labelX} y={l.ys[i] + 2.8} textAnchor="middle" fontSize={8} fill="#333">{v}</text>
                    </g>
                ))}
            </g>
        ))}
    </svg>
);

export default function App() {
    return (
        <div style={{ position: "absolute", left: 0, top: 0, width: 767, height: 1110, background: "#fff", fontFamily: FONT, overflow: "hidden" }}>
            <BoxPanel />
            <UmapPanel />
            <DotPanel left={359} plotWidth={54.7} maxPct={17.5} rows={dotRows(cdkn1bPct, cdkn1bAvg)} />
            <DotPanel left={515.7} plotWidth={56} maxPct={8} rows={dotRows(ndufa4Pct, ndufa4Avg)} />
            <DotPanel left={673.3} plotWidth={54.7} maxPct={20} rows={dotRows(tfamPct, tfamAvg)} />
            <NetworkPanel />
            <Overlay />
        </div>
    );
}
